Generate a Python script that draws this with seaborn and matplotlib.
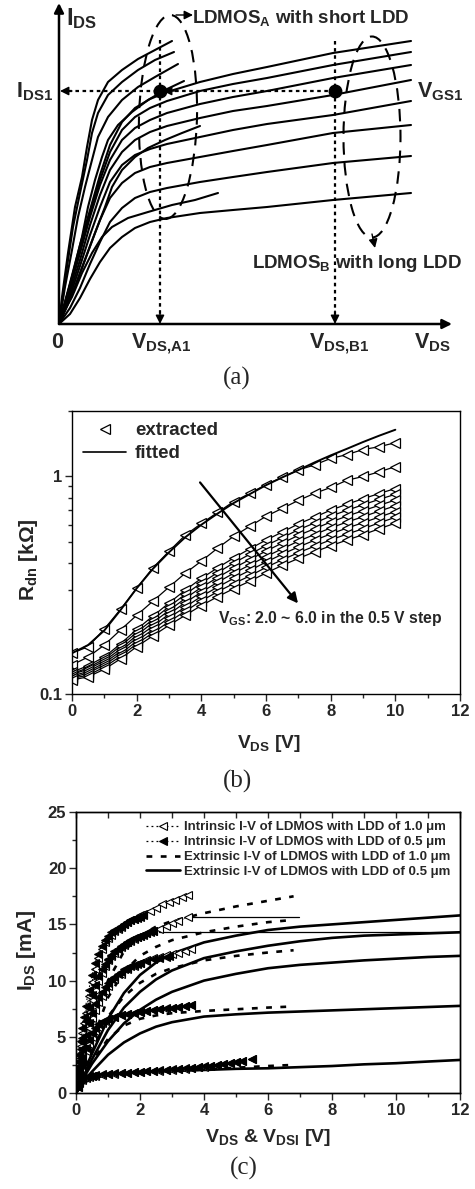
import numpy as np
import pandas as pd
import matplotlib
matplotlib.use("Agg")
import matplotlib.pyplot as plt
import seaborn as sns
from matplotlib.lines import Line2D
from matplotlib.patches import Ellipse
from matplotlib.ticker import FixedLocator, NullFormatter, MultipleLocator, FixedFormatter

# ---------------- (a) schematic I-V curves (arbitrary units) ----------------
A_curves = [
    ([0, 3, 9, 16, 23, 28, 33, 39, 49, 63, 79, 96, 113],
     [0, 27, 71, 117, 147, 177, 204, 224, 242, 254, 265, 274, 283]),
    ([0, 8, 14, 21, 28, 33, 39, 49, 63, 79, 96, 115],
     [0, 57, 97, 131, 164, 191, 211, 229, 242, 254, 264, 272]),
    ([0, 6, 13, 19, 26, 33, 39, 49, 63, 79, 96, 119],
     [0, 37, 74, 107, 137, 164, 187, 207, 224, 237, 247, 260]),
    ([0, 6, 14, 23, 29, 36, 43, 49, 59, 73, 89, 106, 125],
     [0, 21, 51, 87, 117, 144, 167, 184, 199, 212, 224, 234, 243]),
    ([0, 6, 16, 26, 36, 46, 53, 63, 76, 89, 106, 123, 141],
     [0, 14, 37, 64, 91, 117, 137, 154, 167, 176, 184, 191, 198]),
    ([0, 4, 13, 23, 33, 43, 53, 69, 89, 113, 136, 159],
     [0, 11, 27, 51, 71, 87, 97, 106, 112, 119, 124, 131]),
]
B_x = [0, 11, 21, 31, 41, 51, 63, 76, 91, 108, 141, 174, 208, 274, 352]
B_curves = [
    [0, 41, 79, 114, 149, 179, 202, 216, 225, 232, 242, 250, 257, 271, 283],
    [0, 39, 74, 111, 144, 172, 194, 207, 216, 223, 233, 240, 246, 259, 272],
    [0, 36, 71, 107, 139, 164, 184, 196, 204, 211, 220, 227, 233, 246, 259],
    [0, 32, 64, 99, 129, 154, 172, 184, 192, 198, 206, 213, 218, 229, 244],
    [0, 28, 58, 89, 117, 142, 159, 169, 175, 180, 187, 194, 200, 209, 223],
    [0, 24, 51, 78, 104, 126, 141, 151, 157, 161, 167, 173, 179, 191, 199],
    [0, 16, 36, 60, 82, 102, 116, 126, 132, 136, 142, 147, 152, 161, 168],
    [0, 10, 26, 45, 62, 76, 87, 96, 102, 106, 111, 114, 117, 124, 131],
]
V_A1, V_B1, I_DS1 = 101, 276, 233

# ---------------- (b) R_dn vs V_DS ----------------
vds_b = [0, 0.5, 1, 1.5, 2, 2.5, 3, 3.5, 4, 4.5, 5, 5.5, 6, 6.5, 7, 7.5, 8, 8.5, 9, 9.5, 10]
vgs_labels = ["2.0", "2.5", "3.0", "3.5", "4.0", "4.5", "5.0", "5.5", "6.0"]
rdn = [
    [0.154, 0.165, 0.199, 0.245, 0.306, 0.38, 0.453, 0.537, 0.608, 0.683, 0.767, 0.836, 0.918, 0.99, 1.07, 1.13, 1.21, 1.26, 1.33, 1.37, 1.43],
    [0.136, 0.148, 0.168, 0.197, 0.23, 0.267, 0.31, 0.359, 0.408, 0.468, 0.531, 0.59, 0.656, 0.713, 0.776, 0.836, 0.89, 0.96, 1.0, 1.05, 1.11],
    [0.126, 0.135, 0.148, 0.170, 0.198, 0.228, 0.262, 0.300, 0.340, 0.380, 0.422, 0.465, 0.51, 0.555, 0.605, 0.65, 0.70, 0.745, 0.79, 0.835, 0.88],
    [0.124, 0.132, 0.145, 0.166, 0.192, 0.220, 0.252, 0.287, 0.324, 0.361, 0.400, 0.439, 0.481, 0.523, 0.569, 0.611, 0.657, 0.699, 0.741, 0.785, 0.828],
    [0.123, 0.130, 0.142, 0.161, 0.186, 0.213, 0.242, 0.275, 0.309, 0.343, 0.379, 0.415, 0.454, 0.494, 0.536, 0.575, 0.617, 0.657, 0.696, 0.737, 0.779],
    [0.121, 0.127, 0.139, 0.157, 0.181, 0.205, 0.233, 0.263, 0.294, 0.326, 0.359, 0.392, 0.428, 0.465, 0.504, 0.541, 0.580, 0.617, 0.653, 0.693, 0.733],
    [0.119, 0.125, 0.136, 0.153, 0.175, 0.198, 0.224, 0.251, 0.281, 0.310, 0.340, 0.370, 0.404, 0.439, 0.474, 0.509, 0.544, 0.579, 0.613, 0.651, 0.690],
    [0.118, 0.122, 0.133, 0.149, 0.170, 0.191, 0.215, 0.240, 0.268, 0.295, 0.322, 0.349, 0.382, 0.414, 0.446, 0.478, 0.511, 0.543, 0.575, 0.612, 0.649],
    [0.116, 0.120, 0.130, 0.145, 0.165, 0.185, 0.207, 0.230, 0.255, 0.280, 0.305, 0.330, 0.360, 0.390, 0.420, 0.450, 0.480, 0.510, 0.540, 0.575, 0.610],
]
fit_top = [0.154, 0.168, 0.196, 0.243, 0.306, 0.376, 0.448, 0.525, 0.600, 0.675, 0.755, 0.830, 0.912, 0.99, 1.07, 1.16, 1.25, 1.34, 1.44, 1.54, 1.64]

# ---------------- (c) I-V curves ----------------
ext05_x = [0, 0.25, 0.5, 1, 1.5, 2, 2.5, 3, 4, 5, 6, 7, 8, 9, 10, 11, 12]
ext05 = [
    [0, 1.9, 3.5, 6.6, 8.9, 10.5, 11.6, 12.4, 13.4, 14.0, 14.5, 14.8, 15.0, 15.2, 15.4, 15.6, 15.8],
    [0, 1.6, 3.0, 5.6, 7.6, 9.0, 10.1, 10.9, 12.0, 12.6, 13.1, 13.5, 13.8, 14.0, 14.1, 14.2, 14.3],
    [0, 1.4, 2.6, 4.6, 6.2, 7.4, 8.3, 9.0, 10.0, 10.6, 11.1, 11.4, 11.6, 11.8, 11.95, 12.1, 12.2],
    [0, 1.1, 1.9, 3.4, 4.5, 5.3, 5.9, 6.3, 6.8, 7.0, 7.15, 7.25, 7.35, 7.45, 7.55, 7.65, 7.75],
    [0, 0.9, 1.3, 1.6, 1.75, 1.85, 1.9, 1.95, 2.05, 2.15, 2.2, 2.3, 2.4, 2.55, 2.65, 2.8, 2.94],
]
ext10_x = [0, 0.25, 0.5, 1, 1.5, 2, 2.5, 3, 4, 5, 6, 6.8]
ext10 = [
    [0, 3.2, 6.0, 10.0, 12.6, 14.0, 14.8, 15.3, 16.0, 16.6, 17.1, 17.5],
    [0, 2.4, 4.5, 8.5, 10.8, 12.2, 13.0, 13.6, 14.3, 14.8, 15.2, 15.4],
    [0, 2.0, 3.8, 6.8, 8.6, 9.8, 10.6, 11.1, 11.8, 12.2, 12.5, 12.7],
    [0, 1.5, 2.8, 4.8, 6.0, 6.6, 6.9, 7.1, 7.3, 7.45, 7.6, 7.7],
    [0, 1.0, 1.4, 1.6, 1.7, 1.8, 1.88, 1.95, 2.1, 2.25, 2.4, 2.5],
]
int10 = [
    ([0.05, 0.1, 0.15, 0.2, 0.25, 0.3, 0.4, 0.5, 0.6, 0.7, 0.8, 0.9, 1.0, 1.1, 1.2, 1.3, 1.4, 1.5, 1.6, 1.7, 1.8, 1.9, 2.0, 2.1, 2.3, 2.5, 2.7, 2.9, 3.1, 3.3, 3.5],
     [1.8, 3.0, 4.2, 5.3, 6.2, 7.1, 8.6, 9.9, 11.0, 12.0, 12.8, 13.4, 13.8, 14.1, 14.4, 14.6, 14.8, 15.0, 15.2, 15.35, 15.5, 15.65, 15.8, 15.95, 16.2, 16.5, 16.8, 17.0, 17.2, 17.4, 17.6]),
    ([0.05, 0.1, 0.15, 0.2, 0.3, 0.4, 0.5, 0.6, 0.7, 0.8, 0.9, 1.0, 1.1, 1.2, 1.3, 1.4, 1.5, 1.6, 1.7, 1.8, 1.9, 2.0, 2.2, 2.4, 2.6, 2.8, 3.0, 3.2, 3.5],
     [1.5, 2.6, 3.6, 4.5, 6.0, 7.2, 8.3, 9.2, 10.0, 10.7, 11.3, 11.8, 12.2, 12.5, 12.8, 13.0, 13.2, 13.4, 13.55, 13.7, 13.85, 14.0, 14.2, 14.4, 14.6, 14.85, 15.1, 15.3, 15.7]),
    ([0.05, 0.1, 0.15, 0.2, 0.3, 0.4, 0.5, 0.6, 0.7, 0.8, 0.9, 1.0, 1.2, 1.4, 1.6, 1.8, 2.0, 2.2, 2.4, 2.6, 2.8, 3.0, 3.2, 3.4, 3.6],
     [1.2, 2.1, 2.9, 3.6, 4.8, 5.8, 6.7, 7.4, 8.1, 8.6, 9.1, 9.5, 10.1, 10.6, 11.0, 11.3, 11.6, 11.8, 12.0, 12.1, 12.25, 12.4, 12.5, 12.65, 12.8]),
    ([0.05, 0.1, 0.15, 0.2, 0.3, 0.4, 0.5, 0.6, 0.7, 0.8, 0.9, 1.0, 1.2, 1.4, 1.6, 1.8, 2.0, 2.2, 2.4, 2.6, 2.8, 3.0, 3.2, 3.4, 3.6],
     [0.9, 1.6, 2.2, 2.8, 3.7, 4.4, 5.0, 5.5, 5.9, 6.2, 6.4, 6.55, 6.75, 6.9, 7.0, 7.1, 7.2, 7.28, 7.36, 7.44, 7.5, 7.58, 7.65, 7.72, 7.8]),
    ([0.05, 0.1, 0.2, 0.3, 0.4, 0.5, 0.6, 0.8, 1.0, 1.2, 1.4, 1.6, 1.8, 2.0, 2.2, 2.4, 2.6, 2.8, 3.0, 3.2, 3.4, 3.6, 3.8, 4.0, 4.2, 4.4, 4.6, 4.8, 5.0, 5.2, 5.5],
     [0.5, 0.9, 1.2, 1.35, 1.45, 1.5, 1.55, 1.62, 1.68, 1.72, 1.76, 1.8, 1.84, 1.88, 1.92, 1.96, 2.0, 2.04, 2.08, 2.12, 2.17, 2.22, 2.28, 2.34, 2.4, 2.47, 2.55, 2.63, 2.72, 2.82, 3.0]),
]
int05 = [
    ([0.05, 0.1, 0.15, 0.2, 0.25, 0.3, 0.4, 0.5, 0.6, 0.7, 0.8, 0.9, 1.0, 1.1, 1.2, 1.3, 1.4, 1.5, 1.6, 1.7, 1.8, 1.9, 2.0, 2.1],
     [2.0, 3.4, 4.6, 5.8, 6.8, 7.7, 9.2, 10.5, 11.6, 12.4, 13.1, 13.6, 14.0, 14.3, 14.5, 14.7, 14.9, 15.05, 15.2, 15.35, 15.5, 15.6, 15.7, 15.8]),
    ([0.05, 0.1, 0.15, 0.2, 0.3, 0.4, 0.5, 0.6, 0.7, 0.8, 0.9, 1.0, 1.1, 1.2, 1.3, 1.4, 1.5, 1.6, 1.7, 1.8, 1.9, 2.0, 2.1, 2.2, 2.3, 2.4],
     [1.6, 2.8, 3.9, 4.9, 6.4, 7.6, 8.7, 9.6, 10.4, 11.0, 11.5, 11.9, 12.3, 12.6, 12.85, 13.05, 13.25, 13.45, 13.6, 13.75, 13.9, 14.0, 14.1, 14.2, 14.3, 14.4]),
    ([0.05, 0.1, 0.15, 0.2, 0.3, 0.4, 0.5, 0.6, 0.7, 0.8, 0.9, 1.0, 1.1, 1.2, 1.3, 1.4, 1.5, 1.6, 1.7, 1.8, 1.9, 2.0, 2.2, 2.4, 2.6, 2.8, 2.9],
     [1.3, 2.3, 3.1, 3.9, 5.2, 6.2, 7.1, 7.9, 8.5, 9.0, 9.4, 9.8, 10.1, 10.35, 10.6, 10.8, 11.0, 11.15, 11.3, 11.4, 11.5, 11.6, 11.75, 11.9, 12.0, 12.1, 12.2]),
    ([0.05, 0.1, 0.15, 0.2, 0.3, 0.4, 0.5, 0.6, 0.7, 0.8, 0.9, 1.0, 1.2, 1.4, 1.6, 1.8, 2.0, 2.2, 2.4, 2.6, 2.8, 3.0, 3.2, 3.4, 3.6],
     [1.0, 1.8, 2.5, 3.1, 4.0, 4.7, 5.3, 5.8, 6.1, 6.35, 6.5, 6.62, 6.8, 6.95, 7.05, 7.15, 7.22, 7.3, 7.38, 7.45, 7.52, 7.6, 7.66, 7.73, 7.8]),
    ([0.05, 0.1, 0.2, 0.3, 0.4, 0.5, 0.6, 0.8, 1.0, 1.2, 1.4, 1.6, 1.8, 2.0, 2.2, 2.4, 2.6, 2.8, 3.0, 3.2, 3.4, 3.6, 3.8, 4.0, 4.2, 4.4, 4.6, 4.8, 5.0, 5.2, 5.5],
     [0.55, 0.95, 1.25, 1.4, 1.5, 1.55, 1.6, 1.66, 1.7, 1.74, 1.78, 1.82, 1.86, 1.9, 1.94, 1.98, 2.02, 2.06, 2.1, 2.15, 2.2, 2.25, 2.31, 2.37, 2.43, 2.5, 2.58, 2.66, 2.75, 2.85, 3.0]),
]
hline_levels = [15.66, 14.3]
hline_start = [3.56, 2.6]
hline_end = [6.97, 12.0]

# ---------------- styling ----------------
sns.set_theme(style="ticks")
plt.rcParams["font.family"] = ["Liberation Sans", "DejaVu Sans"]
plt.rcParams["font.weight"] = "bold"
plt.rcParams["axes.labelweight"] = "bold"
plt.rcParams["mathtext.fontset"] = "custom"
plt.rcParams["mathtext.rm"] = "Liberation Sans:bold"
plt.rcParams["mathtext.it"] = "Liberation Sans:bold"
plt.rcParams["mathtext.bf"] = "Liberation Sans:bold"
plt.rcParams["axes.linewidth"] = 1.0
plt.rcParams["axes.edgecolor"] = "black"

W, H = 475, 1189
fig = plt.figure(figsize=(W / 100, H / 100), dpi=100)
fig.patch.set_facecolor("white")


def fx(px):
    return px / W


def fy(py):
    return 1 - py / H


# ======================= panel (a) =======================
axa = fig.add_axes([fx(59), fy(324), 393 / W, 321 / H])
axa.set_xlim(0, 393)
axa.set_ylim(0, 321)
axa.axis("off")
for xs, ys in A_curves:
    sns.lineplot(x=xs, y=ys, ax=axa, color="black", lw=1.5, sort=False, estimator=None)
for ys in B_curves:
    sns.lineplot(x=B_x, y=ys, ax=axa, color="black", lw=1.5, sort=False, estimator=None)

ak = dict(arrowstyle="-|>", color="black", lw=1.8, mutation_scale=14, shrinkA=0, shrinkB=0)
axa.annotate("", xy=(393, 0), xytext=(0, 0), arrowprops=ak, annotation_clip=False)
axa.annotate("", xy=(0, 321), xytext=(0, 0), arrowprops=ak, annotation_clip=False)

dot = (0, (1.6, 1.6))
axa.plot([V_B1, 6], [I_DS1, I_DS1], color="black", lw=1.6, ls=dot)
axa.plot([V_A1, V_A1], [284, 8], color="black", lw=1.6, ls=dot)
axa.plot([V_B1, V_B1], [283, 8], color="black", lw=1.6, ls=dot)
hk = dict(arrowstyle="-|>", color="black", lw=1.0, mutation_scale=13, shrinkA=0, shrinkB=0)
axa.annotate("", xy=(1, I_DS1), xytext=(13, I_DS1), arrowprops=hk)
axa.annotate("", xy=(104, I_DS1), xytext=(119, I_DS1), arrowprops=hk)
axa.annotate("", xy=(V_A1, 0), xytext=(V_A1, 13), arrowprops=hk)
axa.annotate("", xy=(V_B1, 0), xytext=(V_B1, 13), arrowprops=hk)
axa.plot([V_A1, V_B1], [I_DS1, I_DS1], "o", color="black", ms=9)

axa.add_patch(Ellipse((109, 207), 58, 204, angle=-1.5, fill=False, ec="black", lw=1.5, ls=(0, (6, 4))))
axa.add_patch(Ellipse((313, 187), 57, 201, angle=0, fill=False, ec="black", lw=1.5, ls=(0, (6, 4))))
axa.annotate("", xy=(134, 309), xytext=(117, 309), arrowprops=hk, annotation_clip=False)
axa.annotate("", xy=(316, 76), xytext=(313, 90), arrowprops=hk)

fs_a = 15.5
fig.text(fx(66), fy(25), r"$\mathrm{I_{DS}}$", fontsize=17, ha="left", va="baseline")
fig.text(fx(192), fy(23), r"LDMOS$_{\mathrm{A}}$ with short LDD", fontsize=13.5, ha="left", va="baseline")
fig.text(fx(16), fy(97), r"$\mathrm{I_{DS1}}$", fontsize=fs_a, ha="left", va="baseline")
fig.text(fx(417), fy(97), r"$\mathrm{V_{GS1}}$", fontsize=fs_a, ha="left", va="baseline")
fig.text(fx(252), fy(268), r"LDMOS$_{\mathrm{B}}$ with long LDD", fontsize=13.5, ha="left", va="baseline")
fig.text(fx(57), fy(348), "0", fontsize=fs_a, ha="center", va="baseline")
fig.text(fx(131), fy(348), r"$\mathrm{V_{DS{,}A1}}$", fontsize=fs_a, ha="left", va="baseline")
fig.text(fx(309), fy(348), r"$\mathrm{V_{DS{,}B1}}$", fontsize=fs_a, ha="left", va="baseline")
fig.text(fx(414), fy(348), r"$\mathrm{V_{DS}}$", fontsize=fs_a, ha="left", va="baseline")

cap = dict(fontsize=18, ha="center", va="center", family="Liberation Serif", fontweight="normal")
fig.text(fx(237), fy(378), "(a)", **cap)
fig.text(fx(237), fy(781), "(b)", **cap)
fig.text(fx(244), fy(1168), "(c)", **cap)

# ======================= panel (b) =======================
axb = fig.add_axes([fx(72), fy(694), 388 / W, 283 / H])
for i, ys in enumerate(rdn):
    sns.lineplot(x=vds_b, y=ys, ax=axb, color="black", lw=0.9, sort=False, estimator=None,
                 marker="<", ms=6.8, mfc="white", mec="black", mew=0.9)
sns.lineplot(x=vds_b, y=fit_top, ax=axb, color="black", lw=1.4, sort=False, estimator=None)
axb.set_yscale("log")
axb.set_xlim(0, 12)
axb.set_ylim(0.1, 2.0)
axb.xaxis.set_major_locator(MultipleLocator(2))
axb.xaxis.set_minor_locator(MultipleLocator(1))
axb.yaxis.set_major_locator(FixedLocator([0.1, 1]))
axb.yaxis.set_major_formatter(FixedFormatter(["0.1", "1"]))
axb.yaxis.set_minor_locator(FixedLocator([0.2, 0.3, 0.4, 0.5, 0.6, 0.7, 0.8, 0.9, 2.0]))
axb.yaxis.set_minor_formatter(NullFormatter())
axb.tick_params(axis="both", which="major", direction="out", length=5, width=1, labelsize=12, pad=2)
axb.tick_params(axis="both", which="minor", direction="out", length=3, width=1)
axb.tick_params(top=False, right=False)
axb.set_xlabel("")
axb.set_ylabel("")
fig.text(fx(28), fy(560), r"R$_{\mathrm{dn}}$ [kΩ]", fontsize=15, rotation=90, ha="center", va="center")
fig.text(fx(269), fy(743), r"V$_{\mathrm{DS}}$ [V]", fontsize=13.8, ha="center", va="center")
axb.annotate("", xy=(6.99, 0.261), xytext=(3.96, 0.939),
             arrowprops=dict(arrowstyle="-|>", color="black", lw=1.6, mutation_scale=15, shrinkA=0, shrinkB=0))
axb.text(4.52, 0.223, r"V$_{\mathrm{GS}}$: 2.0 ~ 6.0 in the 0.5 V step", fontsize=11.3, ha="left", va="center")
hb = [Line2D([], [], ls="none", marker="<", ms=6.8, mfc="white", mec="black", mew=0.9),
      Line2D([], [], color="black", lw=1.2)]
axb.legend(hb, ["extracted", "fitted"], loc="upper left", frameon=False,
           handlelength=2.3, handletextpad=0.45, labelspacing=0.32, borderaxespad=0.4, borderpad=0.2,
           prop=dict(weight="bold", size=13.5))

# ======================= panel (c) =======================
axc = fig.add_axes([fx(76), fy(1093), 384 / W, 281 / H])
for ys in ext05:
    sns.lineplot(x=ext05_x, y=ys, ax=axc, color="black", lw=1.9, sort=False, estimator=None)
for ys in ext10:
    sns.lineplot(x=ext10_x, y=ys, ax=axc, color="black", lw=1.9, sort=False, estimator=None,
                 linestyle=(0, (2.2, 3.2)))
for lv, x0, x1 in zip(hline_levels, hline_start, hline_end):
    sns.lineplot(x=[x0, x1], y=[lv, lv], ax=axc, color="black", lw=0.9, sort=False, estimator=None)
for xs, ys in int10:
    sns.lineplot(x=xs, y=ys, ax=axc, color="black", lw=0.8, sort=False, estimator=None,
                 linestyle=(0, (1.5, 2.5)), marker="<", ms=6.3, mfc="white", mec="black", mew=0.8)
for xs, ys in int05:
    sns.lineplot(x=xs, y=ys, ax=axc, color="black", lw=0.8, sort=False, estimator=None,
                 linestyle=(0, (1.5, 2.5)), marker="<", ms=6.3, mfc="black", mec="black", mew=0.8)
axc.set_xlim(0, 12)
axc.set_ylim(0, 25)
axc.xaxis.set_major_locator(MultipleLocator(2))
axc.xaxis.set_minor_locator(MultipleLocator(1))
axc.yaxis.set_major_locator(MultipleLocator(5))
axc.yaxis.set_minor_locator(MultipleLocator(2.5))
axc.tick_params(axis="both", which="major", direction="out", length=5, width=1, labelsize=12, pad=2)
axc.tick_params(axis="both", which="minor", direction="out", length=3, width=1)
axc.tick_params(axis="x", which="both", top=False)
axc.set_xlabel("")
axc.set_ylabel("")
fig.text(fx(27), fy(950), r"I$_{\mathrm{DS}}$ [mA]", fontsize=15, rotation=90, ha="center", va="center")
fig.text(fx(268), fy(1137), r"V$_{\mathrm{DS}}$ & V$_{\mathrm{DSI}}$ [V]", fontsize=14, ha="center", va="center")
# inward ticks on top spine
axt = axc.twiny()
axt.set_xlim(0, 12)
axt.xaxis.set_major_locator(MultipleLocator(1))
axt.tick_params(axis="x", which="major", direction="in", length=4, width=1, labeltop=False, top=True)
axt.tick_params(axis="x", which="minor", top=False)

hc = [Line2D([], [], color="black", lw=0.9, ls=(0, (1.5, 2.5)), marker="<", ms=6.3, mfc="white", mec="black", mew=0.8),
      Line2D([], [], color="black", lw=0.9, ls=(0, (1.5, 2.5)), marker="<", ms=6.3, mfc="black", mec="black", mew=0.8),
      Line2D([], [], color="black", lw=1.9, ls=(0, (2.2, 3.2))),
      Line2D([], [], color="black", lw=1.9)]
labs_c = ["Intrinsic I-V of LDMOS with LDD of 1.0 μm",
          "Intrinsic I-V of LDMOS with LDD of 0.5 μm",
          "Extrinsic I-V of LDMOS with LDD of 1.0 μm",
          "Extrinsic I-V of LDMOS with LDD of 0.5 μm"]
axt.legend(hc, labs_c, loc="upper right", frameon=False, handlelength=2.6, handletextpad=0.3,
           labelspacing=0.2, borderaxespad=0.6, borderpad=0.1, prop=dict(weight="bold", size=9.5))

fig.canvas.draw()
for ax in (axb, axc):
    for lab in ax.get_xticklabels() + ax.get_yticklabels():
        lab.set_fontweight("bold")
fig.savefig("out.png", dpi=100, facecolor="white")
